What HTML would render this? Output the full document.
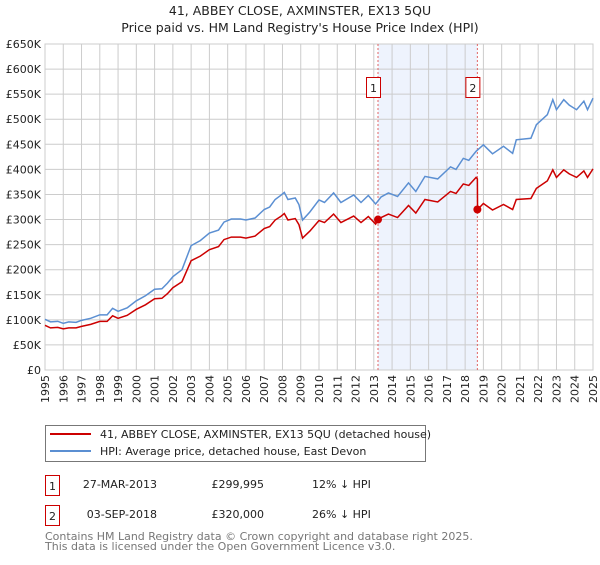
<!DOCTYPE html>
<html><head><meta charset="utf-8"><style>
html,body{margin:0;padding:0;background:#fff;}
svg text{font-family:"DejaVu Sans","Liberation Sans",sans-serif;}
</style></head><body>
<svg id="chart" width="600" height="560" viewBox="0 0 600 560" xmlns="http://www.w3.org/2000/svg">
<text x="300" y="15" text-anchor="middle" font-size="12.5" fill="#222">41, ABBEY CLOSE, AXMINSTER, EX13 5QU</text>
<text x="300" y="32" text-anchor="middle" font-size="12.5" fill="#222">Price paid vs. HM Land Registry's House Price Index (HPI)</text>
<g id="plot"></g>
<g>
<rect x="45.5" y="425.5" width="380" height="36" fill="#fff" stroke="#777"/>
<line x1="50" y1="434" x2="91" y2="434" stroke="#cc0000" stroke-width="2"/>
<text x="100" y="438" font-size="11" fill="#222">41, ABBEY CLOSE, AXMINSTER, EX13 5QU (detached house)</text>
<line x1="50" y1="451" x2="91" y2="451" stroke="#5b8fd2" stroke-width="2"/>
<text x="100" y="455" font-size="11" fill="#222">HPI: Average price, detached house, East Devon</text>
</g>
<g>
<rect x="45.5" y="475.5" width="14" height="20" fill="#fff" stroke="#cc0000"/>
<text x="52.5" y="490" text-anchor="middle" font-size="11" fill="#222">1</text>
<text x="157" y="488" text-anchor="end" font-size="11" fill="#222">27-MAR-2013</text>
<text x="264" y="488" text-anchor="end" font-size="11" fill="#222">£299,995</text>
<text x="312" y="488" font-size="11" fill="#222">12% ↓ HPI</text>
<rect x="45.5" y="505.5" width="14" height="20" fill="#fff" stroke="#cc0000"/>
<text x="52.5" y="520" text-anchor="middle" font-size="11" fill="#222">2</text>
<text x="157" y="518" text-anchor="end" font-size="11" fill="#222">03-SEP-2018</text>
<text x="264" y="518" text-anchor="end" font-size="11" fill="#222">£320,000</text>
<text x="312" y="518" font-size="11" fill="#222">26% ↓ HPI</text>
</g>
<text x="45" y="540" font-size="11" fill="#777">Contains HM Land Registry data © Crown copyright and database right 2025.</text>
<text x="45" y="550" font-size="11" fill="#777">This data is licensed under the Open Government Licence v3.0.</text>
</svg>
<script>
const hpiYears=[1995.0,1995.3,1995.7,1996.0,1996.3,1996.7,1997.0,1997.5,1998.0,1998.4,1998.7,1999.0,1999.5,2000.0,2000.5,2001.0,2001.4,2001.7,2002.0,2002.5,2003.0,2003.5,2004.0,2004.5,2004.8,2005.2,2005.7,2006.0,2006.5,2007.0,2007.3,2007.6,2007.9,2008.1,2008.3,2008.7,2008.9,2009.1,2009.5,2010.0,2010.3,2010.8,2011.2,2011.9,2012.3,2012.7,2013.1,2013.4,2013.8,2014.3,2014.9,2015.3,2015.8,2016.5,2017.2,2017.5,2017.9,2018.2,2018.6,2019.0,2019.5,2020.1,2020.6,2020.8,2021.6,2021.9,2022.5,2022.8,2023.0,2023.4,2023.7,2024.1,2024.5,2024.7,2025.0];
const hpiValues=[101,96,97,93,96,95,99,103,110,110,123,117,124,138,148,161,162,173,186,200,248,258,273,279,295,301,301,299,303,320,325,340,348,354,340,343,330,299,315,339,334,353,334,349,334,348,331,345,353,346,373,356,386,381,405,400,422,418,436,449,431,446,432,459,462,489,509,539,519,539,528,519,536,519,542];
const propYears=[1995.0,1995.3,1995.7,1996.0,1996.3,1996.7,1997.0,1997.5,1998.0,1998.4,1998.7,1999.0,1999.5,2000.0,2000.5,2001.0,2001.4,2001.7,2002.0,2002.5,2003.0,2003.5,2004.0,2004.5,2004.8,2005.2,2005.7,2006.0,2006.5,2007.0,2007.3,2007.6,2007.9,2008.1,2008.3,2008.7,2008.9,2009.1,2009.5,2010.0,2010.3,2010.8,2011.2,2011.9,2012.3,2012.7,2013.1,2013.23,2013.4,2013.8,2014.3,2014.9,2015.3,2015.8,2016.5,2017.2,2017.5,2017.9,2018.2,2018.6,2018.67,2018.68,2019.0,2019.5,2020.1,2020.6,2020.8,2021.6,2021.9,2022.5,2022.8,2023.0,2023.4,2023.7,2024.1,2024.5,2024.7,2025.0];
const propValues=[89,84,85,82,84,84,87,91,97,97,108,103,109,121,130,142,143,152,164,176,218,227,240,246,260,265,265,263,267,282,286,299,306,312,299,302,290,263,277,298,294,311,294,307,294,306,291,300,304,311,304,328,313,340,335,356,352,371,368,384,381,320,332,319,330,320,340,342,362,377,399,384,399,391,384,397,384,401];
const saleYears=[2013.23,2018.67];
const saleValues=[299.995,320];
const saleLabels=["1","2"];
const yTicks=[0,50,100,150,200,250,300,350,400,450,500,550,600,650];
const yTickLabels=["£0","£50K","£100K","£150K","£200K","£250K","£300K","£350K","£400K","£450K","£500K","£550K","£600K","£650K"];
const xTicks=[1995,1996,1997,1998,1999,2000,2001,2002,2003,2004,2005,2006,2007,2008,2009,2010,2011,2012,2013,2014,2015,2016,2017,2018,2019,2020,2021,2022,2023,2024,2025];

const L=45,R=593,T=44,B=370;
const xs=y=>L+(y-1995)/(2025-1995)*(R-L);
const ys=v=>B-v/650*(B-T);
const NS="http://www.w3.org/2000/svg";
const plot=document.getElementById('plot');
function mk(tag,attrs,parent){const e=document.createElementNS(NS,tag);for(const k in attrs)e.setAttribute(k,attrs[k]);(parent||plot).appendChild(e);return e;}

const shade=mk('rect',{x:xs(saleYears[0]),y:T,width:xs(saleYears[1])-xs(saleYears[0]),height:B-T,fill:'#eef3fd'});


yTicks.forEach((v,i)=>{
  const g=mk('line',{x1:L,x2:R,y1:ys(v),y2:ys(v),stroke:'#ccc','stroke-width':1});
  
  
  const t=mk('text',{x:L-4,y:ys(v)+4,'text-anchor':'end','font-size':'11',fill:'#222'});
  t.textContent=yTickLabels[i];
  
  
});
xTicks.forEach(y=>{
  const g=mk('line',{x1:xs(y),x2:xs(y),y1:T,y2:B,stroke:'#ccc','stroke-width':1});
  
  
  const t=mk('text',{x:0,y:0,'text-anchor':'end','font-size':'11',fill:'#222',transform:`translate(${xs(y)+4},${B+5}) rotate(-90)`});
  t.textContent=String(y);
  
  
});
const frame=mk('rect',{x:L,y:T,width:R-L,height:B-T,fill:'none',stroke:'#ccc'});


saleYears.forEach((y,i)=>{
  const l=mk('line',{x1:xs(y),x2:xs(y),y1:T,y2:B,stroke:'#e06666','stroke-dasharray':'2,2','stroke-width':1});
  
  
});
const hp=mk('polyline',{points:hpiYears.map((y,i)=>xs(y)+','+ys(hpiValues[i])).join(' '),fill:'none',stroke:'#5b8fd2','stroke-width':1.5});


const pp=mk('polyline',{points:propYears.map((y,i)=>xs(y)+','+ys(propValues[i])).join(' '),fill:'none',stroke:'#cc0000','stroke-width':1.5});


saleYears.forEach((y,i)=>{
  const c=mk('circle',{cx:xs(y),cy:ys(saleValues[i]),r:4,fill:'#cc0000'});
  
  
  const bx=mk('rect',{x:xs(y)-11.5,y:T+33.5,width:14,height:20,fill:'#fff',stroke:'#cc0000'});
  
  
  const t=mk('text',{x:xs(y)-4.5,y:T+48,'text-anchor':'middle','font-size':'11',fill:'#222'});
  t.textContent=saleLabels[i];
  
  
});
</script>
</body></html>
